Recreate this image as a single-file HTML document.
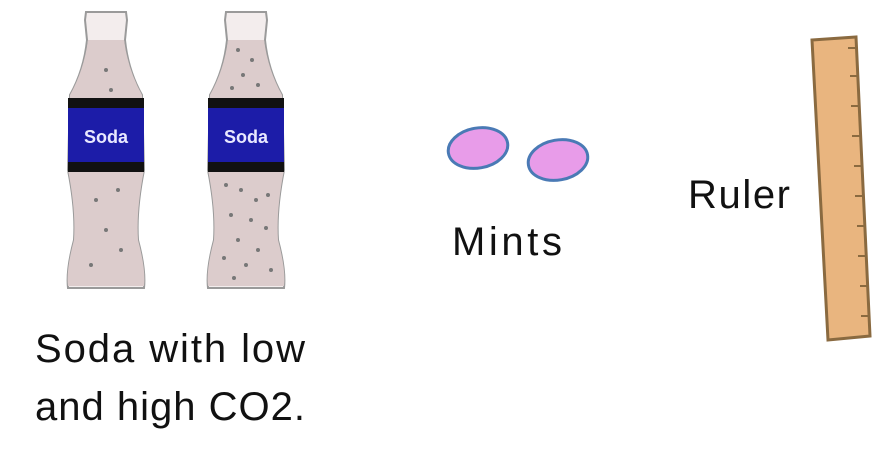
<!DOCTYPE html>
<html><head><meta charset="utf-8"><style>
html,body{margin:0;padding:0;background:#fff;width:890px;height:460px;overflow:hidden}
text{font-family:"Liberation Sans",sans-serif;fill:#111}
</style></head><body>
<svg width="890" height="460" viewBox="0 0 890 460">
<defs>
<g id="bottle">
<path d="M-20,12 L20,12 L21,20 L19,40 Q22,70 36,95 L38,170 Q30,210 32,240 Q40,270 38,288 L-38,288 Q-40,270 -32,240 Q-30,210 -38,170 L-36,95 Q-22,70 -19,40 L-21,20 Z" fill="#f3eded" stroke="#9a9a9a" stroke-width="2"/>
<path d="M-18,40 L18,40 Q22,70 36,95 L38,170 Q30,210 32,240 Q40,270 38,286 L-38,286 Q-40,270 -32,240 Q-30,210 -38,170 L-36,95 Q-22,70 -18,40 Z" fill="#dccccc"/>
<rect x="-38" y="98" width="76" height="74" fill="#1c1ca8"/>
<rect x="-38" y="98" width="76" height="10" fill="#111"/>
<rect x="-38" y="162" width="76" height="10" fill="#111"/>
</g>
</defs>
<g transform="translate(106,0)">
<use href="#bottle"/>
<circle cx="0" cy="70" r="2" fill="#777"/><circle cx="5" cy="90" r="2" fill="#777"/>
<circle cx="-10" cy="200" r="2" fill="#777"/><circle cx="12" cy="190" r="2" fill="#777"/>
<circle cx="0" cy="230" r="2" fill="#777"/><circle cx="15" cy="250" r="2" fill="#777"/><circle cx="-15" cy="265" r="2" fill="#777"/>
<text x="0" y="143" text-anchor="middle" font-size="18" font-weight="bold" style="fill:#e8e8ff">Soda</text>
</g>
<g transform="translate(246,0)">
<use href="#bottle"/>
<g fill="#777">
<circle cx="-8" cy="50" r="2"/><circle cx="6" cy="60" r="2"/><circle cx="-3" cy="75" r="2"/><circle cx="12" cy="85" r="2"/><circle cx="-14" cy="88" r="2"/>
<circle cx="-20" cy="185" r="2"/><circle cx="-5" cy="190" r="2"/><circle cx="10" cy="200" r="2"/><circle cx="22" cy="195" r="2"/>
<circle cx="-15" cy="215" r="2"/><circle cx="5" cy="220" r="2"/><circle cx="20" cy="228" r="2"/><circle cx="-8" cy="240" r="2"/>
<circle cx="12" cy="250" r="2"/><circle cx="-22" cy="258" r="2"/><circle cx="0" cy="265" r="2"/><circle cx="25" cy="270" r="2"/><circle cx="-12" cy="278" r="2"/>
</g>
<text x="0" y="143" text-anchor="middle" font-size="18" font-weight="bold" style="fill:#e8e8ff">Soda</text>
</g>
<ellipse cx="478" cy="148" rx="30" ry="20" transform="rotate(-10 478 148)" fill="#e89ce9" stroke="#4a7ab5" stroke-width="3"/>
<ellipse cx="558" cy="160" rx="30" ry="20" transform="rotate(-10 558 160)" fill="#e89ce9" stroke="#4a7ab5" stroke-width="3"/>
<text x="452" y="255" font-size="40" textLength="110">Mints</text>
<text x="688" y="208" font-size="40" textLength="102">Ruler</text>
<g>
<polygon points="812,40 856,37 870,336 828,340" fill="#e9b57f" stroke="#8a6a40" stroke-width="3"/>
<g stroke="#8a6a40" stroke-width="2">
<line x1="848" y1="48" x2="856" y2="48"/><line x1="850" y1="76" x2="858" y2="76"/><line x1="851" y1="106" x2="859" y2="106"/>
<line x1="852" y1="136" x2="860" y2="136"/><line x1="854" y1="166" x2="862" y2="166"/><line x1="855" y1="196" x2="863" y2="196"/>
<line x1="857" y1="226" x2="865" y2="226"/><line x1="858" y1="256" x2="866" y2="256"/><line x1="860" y1="286" x2="868" y2="286"/><line x1="861" y1="316" x2="869" y2="316"/>
</g>
</g>
<text x="35" y="362" font-size="40" textLength="270">Soda with low</text>
<text x="35" y="420" font-size="40" textLength="270">and high CO2.</text>
</svg>
</body></html>
